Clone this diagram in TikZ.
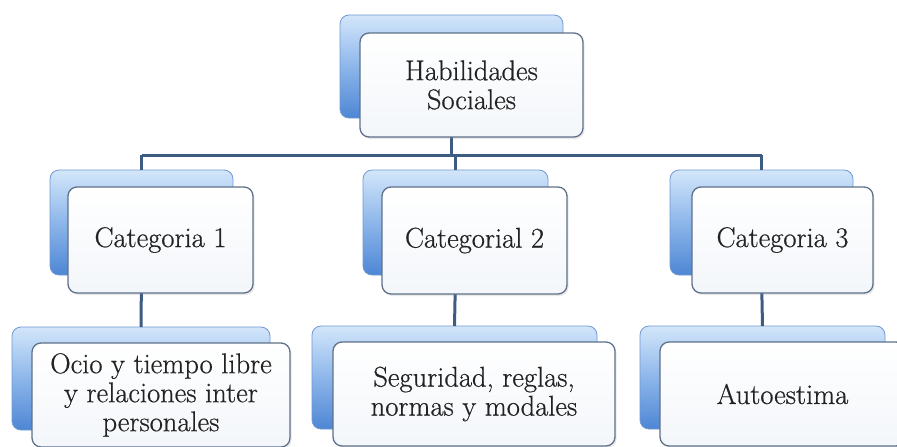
\documentclass[tikz,border=0pt]{standalone}
\usepackage{fontspec}
\newfontfamily\boxfont{Latin Modern Roman}[FakeBold=0.6]
\usetikzlibrary{shadows}
\definecolor{bluelight}{HTML}{D3E6FA}
\definecolor{bluemid}{HTML}{8DB6EA}
\definecolor{bluedark}{HTML}{4E86D4}
\definecolor{blueedge}{HTML}{6F9AD2}
\definecolor{frontedge}{HTML}{5F7189}
\definecolor{frontfill}{HTML}{F3F6FA}
\definecolor{linkcol}{HTML}{3E5B82}
\definecolor{txt}{HTML}{222222}
\tikzset{
  backbox/.style={draw=blueedge, line width=0.8pt, rounded corners=9pt,
    top color=bluelight, bottom color=bluedark, middle color=bluemid,
    inner sep=0pt, outer sep=0pt, anchor=north west},
  frontbox/.style={draw=frontedge, line width=1.3pt, rounded corners=9pt,
    top color=white, bottom color=frontfill,
    drop shadow={opacity=0.18, shadow xshift=1.5pt, shadow yshift=-2pt},
    inner sep=0pt, outer sep=0pt, anchor=north west, align=center,
    text=txt, font=\boxfont\fontsize{28.5}{29}\selectfont},
  link/.style={draw=linkcol, line width=3pt}
}
\begin{document}
\begin{tikzpicture}[x=1pt,y=-1pt]
\useasboundingbox (0,0) rectangle (897,447);
\clip (0,0) rectangle (897,447);
\coordinate (bus) at (0,155);
% back boxes (nodes used for connectors)
\node[backbox, minimum width=223pt, minimum height=103pt] (hs) at (340,15) {};
\node[backbox, minimum width=183pt, minimum height=105pt] (c1) at (50,170) {};
\node[backbox, minimum width=185pt, minimum height=105pt] (c2) at (363,170) {};
\node[backbox, minimum width=183pt, minimum height=105pt] (c3) at (670,170) {};
\node[backbox, minimum width=258pt, minimum height=103pt] (b1) at (12,327) {};
\node[backbox, minimum width=285pt, minimum height=103pt] (b2) at (312,326) {};
\node[backbox, minimum width=245pt, minimum height=103pt] (b3) at (640,326) {};
% connectors
\draw[link] (hs.south) -- (hs.south |- bus);
\draw[link] (c1.north |- bus) -- (c3.north |- bus);
\draw[link] (c1.north |- bus) -- (c1.north);
\draw[link] (c2.north |- bus) -- (c2.north);
\draw[link] (c3.north |- bus) -- (c3.north);
\draw[link] (c1.south) -- (b1.north);
\draw[link] (c2.south) -- (b2.north);
\draw[link] (c3.south) -- (b3.north);
% front boxes
\node[frontbox, minimum width=223pt, minimum height=104pt] (hsf) at (360,33) {Habilidades\\Sociales};
\node[frontbox, minimum width=185pt, minimum height=106pt] (c1f) at (68,187) {Categoria 1};
\node[frontbox, minimum width=185pt, minimum height=107pt] (c2f) at (382,187) {Categorial 2};
\node[frontbox, minimum width=181pt, minimum height=106pt] (c3f) at (692,187) {Categoria 3};
\node[frontbox, minimum width=258pt, minimum height=104pt] (b1f) at (32,343) {Ocio y tiempo libre\\y relaciones inter\\personales};
\node[frontbox, minimum width=282pt, minimum height=104pt] (b2f) at (333,342) {Seguridad, reglas,\\normas y modales};
\node[frontbox, minimum width=245pt, minimum height=104pt] (b3f) at (660,342) {Autoestima};
\end{tikzpicture}
\end{document}
